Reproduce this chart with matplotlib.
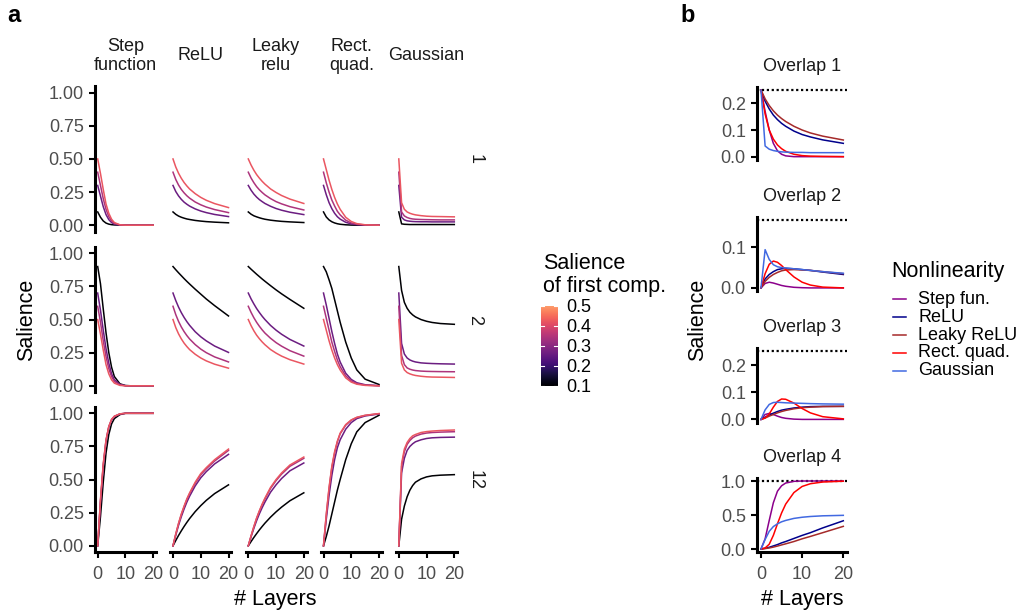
import numpy as np
import matplotlib.pyplot as plt
from matplotlib.colors import ListedColormap

plt.rcParams['font.family'] = ['Liberation Sans', 'DejaVu Sans']

layers = [0, 1, 2, 3, 4, 5, 6, 8, 10, 12, 15, 20]

# ---- panel a: salience of first component = 0.1, 0.3, 0.4, 0.5 ----
salience = [0.1, 0.3, 0.4, 0.5]
col_labels = ["Step\nfunction", "ReLU", "Leaky\nrelu", "Rect.\nquad.", "Gaussian"]
row_labels = ["1", "2", "12"]

# row "1"
step_r1 = [[0.1, 0.06, 0.032, 0.016, 0.008, 0.004, 0.002, 0.0, 0, 0, 0, 0],
           [0.3, 0.22, 0.14, 0.08, 0.042, 0.02, 0.008, 0.001, 0, 0, 0, 0],
           [0.4, 0.3, 0.2, 0.12, 0.065, 0.032, 0.014, 0.002, 0, 0, 0, 0],
           [0.5, 0.39, 0.27, 0.16, 0.09, 0.045, 0.02, 0.003, 0, 0, 0, 0]]
relu_r1 = [[0.1, 0.082, 0.069, 0.06, 0.053, 0.047, 0.043, 0.036, 0.031, 0.027, 0.023, 0.018],
           [0.3, 0.254, 0.221, 0.195, 0.174, 0.158, 0.144, 0.123, 0.107, 0.095, 0.081, 0.065],
           [0.4, 0.345, 0.303, 0.27, 0.244, 0.222, 0.204, 0.175, 0.154, 0.137, 0.118, 0.095],
           [0.5, 0.439, 0.392, 0.354, 0.322, 0.296, 0.273, 0.238, 0.21, 0.188, 0.163, 0.133]]
leaky_r1 = [[0.1, 0.083, 0.071, 0.063, 0.056, 0.05, 0.045, 0.038, 0.033, 0.029, 0.025, 0.02],
            [0.3, 0.264, 0.235, 0.212, 0.193, 0.178, 0.164, 0.143, 0.126, 0.113, 0.098, 0.08],
            [0.4, 0.356, 0.321, 0.291, 0.267, 0.247, 0.229, 0.201, 0.178, 0.161, 0.14, 0.115],
            [0.5, 0.454, 0.415, 0.382, 0.355, 0.331, 0.31, 0.274, 0.247, 0.224, 0.197, 0.164]]
rquad_r1 = [[0.1, 0.062, 0.04, 0.026, 0.017, 0.011, 0.007, 0.003, 0.001, 0, 0, 0],
            [0.3, 0.23, 0.17, 0.125, 0.09, 0.064, 0.046, 0.022, 0.01, 0.004, 0.001, 0],
            [0.4, 0.32, 0.25, 0.19, 0.145, 0.105, 0.078, 0.038, 0.017, 0.007, 0.002, 0],
            [0.5, 0.42, 0.34, 0.27, 0.21, 0.16, 0.12, 0.06, 0.028, 0.012, 0.003, 0]]
gauss_r1 = [[0.1, 0.01, 0.007, 0.006, 0.005, 0.005, 0.005, 0.005, 0.005, 0.005, 0.005, 0.005],
            [0.3, 0.06, 0.04, 0.033, 0.03, 0.028, 0.027, 0.026, 0.026, 0.025, 0.025, 0.025],
            [0.4, 0.1, 0.07, 0.058, 0.051, 0.047, 0.045, 0.043, 0.042, 0.041, 0.04, 0.04],
            [0.5, 0.17, 0.12, 0.1, 0.09, 0.083, 0.078, 0.072, 0.068, 0.066, 0.065, 0.063]]

# row "2"
step_r2 = [[0.9, 0.77, 0.58, 0.4, 0.25, 0.14, 0.07, 0.015, 0.002, 0, 0, 0],
           [0.7, 0.57, 0.42, 0.28, 0.17, 0.09, 0.045, 0.01, 0.001, 0, 0, 0],
           [0.6, 0.48, 0.34, 0.22, 0.13, 0.07, 0.033, 0.007, 0, 0, 0, 0],
           [0.5, 0.39, 0.27, 0.16, 0.09, 0.045, 0.02, 0.003, 0, 0, 0, 0]]
relu_r2 = [[0.9, 0.876, 0.853, 0.831, 0.809, 0.788, 0.768, 0.729, 0.692, 0.655, 0.605, 0.527],
           [0.7, 0.643, 0.594, 0.552, 0.516, 0.484, 0.456, 0.408, 0.37, 0.339, 0.3, 0.252],
           [0.6, 0.537, 0.486, 0.444, 0.409, 0.379, 0.353, 0.311, 0.277, 0.25, 0.218, 0.18],
           [0.5, 0.439, 0.392, 0.354, 0.322, 0.296, 0.273, 0.238, 0.21, 0.188, 0.163, 0.133]]
leaky_r2 = [[0.9, 0.88, 0.861, 0.842, 0.824, 0.806, 0.789, 0.756, 0.724, 0.694, 0.652, 0.585],
            [0.7, 0.656, 0.618, 0.583, 0.553, 0.525, 0.5, 0.456, 0.42, 0.389, 0.35, 0.3],
            [0.6, 0.554, 0.514, 0.479, 0.449, 0.422, 0.398, 0.359, 0.326, 0.299, 0.265, 0.224],
            [0.5, 0.454, 0.415, 0.382, 0.355, 0.331, 0.31, 0.274, 0.247, 0.224, 0.197, 0.164]]
rquad_r2 = [[0.9, 0.86, 0.8, 0.735, 0.65, 0.565, 0.48, 0.33, 0.21, 0.12, 0.05, 0.01],
            [0.7, 0.61, 0.51, 0.41, 0.32, 0.24, 0.18, 0.095, 0.048, 0.023, 0.008, 0.001],
            [0.6, 0.51, 0.42, 0.33, 0.26, 0.195, 0.145, 0.075, 0.037, 0.017, 0.005, 0],
            [0.5, 0.42, 0.34, 0.27, 0.21, 0.16, 0.12, 0.06, 0.028, 0.012, 0.003, 0]]
gauss_r2 = [[0.9, 0.72, 0.63, 0.585, 0.555, 0.535, 0.52, 0.5, 0.487, 0.478, 0.47, 0.464],
            [0.7, 0.32, 0.24, 0.21, 0.195, 0.186, 0.18, 0.173, 0.17, 0.168, 0.166, 0.164],
            [0.6, 0.23, 0.16, 0.135, 0.125, 0.119, 0.115, 0.111, 0.109, 0.108, 0.107, 0.106],
            [0.5, 0.17, 0.12, 0.1, 0.09, 0.083, 0.078, 0.072, 0.068, 0.066, 0.065, 0.063]]

# row "12"
step_r3 = [[0, 0.22, 0.48, 0.7, 0.84, 0.92, 0.96, 0.99, 1, 1, 1, 1],
           [0, 0.33, 0.6, 0.79, 0.895, 0.95, 0.975, 0.995, 1, 1, 1, 1],
           [0, 0.34, 0.61, 0.795, 0.9, 0.952, 0.977, 0.995, 1, 1, 1, 1],
           [0, 0.35, 0.62, 0.8, 0.9, 0.955, 0.978, 0.996, 1, 1, 1, 1]]
relu_r3 = [[0, 0.04, 0.078, 0.113, 0.146, 0.177, 0.206, 0.258, 0.303, 0.343, 0.394, 0.46],
           [0, 0.08, 0.155, 0.22, 0.278, 0.33, 0.375, 0.452, 0.513, 0.56, 0.618, 0.69],
           [0, 0.088, 0.167, 0.236, 0.295, 0.349, 0.394, 0.472, 0.536, 0.581, 0.64, 0.72],
           [0, 0.09, 0.17, 0.24, 0.3, 0.355, 0.4, 0.48, 0.545, 0.59, 0.65, 0.73]]
leaky_r3 = [[0, 0.032, 0.063, 0.092, 0.12, 0.146, 0.171, 0.216, 0.256, 0.292, 0.34, 0.4],
            [0, 0.068, 0.132, 0.19, 0.242, 0.288, 0.33, 0.404, 0.46, 0.508, 0.566, 0.625],
            [0, 0.074, 0.143, 0.207, 0.261, 0.31, 0.354, 0.433, 0.492, 0.541, 0.6, 0.66],
            [0, 0.075, 0.145, 0.21, 0.265, 0.315, 0.36, 0.44, 0.5, 0.55, 0.61, 0.67]]
rquad_r3 = [[0, 0.07, 0.15, 0.24, 0.33, 0.42, 0.5, 0.65, 0.77, 0.86, 0.93, 0.985],
            [0, 0.2, 0.38, 0.53, 0.65, 0.74, 0.8, 0.88, 0.93, 0.96, 0.98, 0.995],
            [0, 0.23, 0.43, 0.59, 0.7, 0.785, 0.845, 0.91, 0.948, 0.968, 0.984, 0.997],
            [0, 0.24, 0.44, 0.6, 0.71, 0.79, 0.85, 0.915, 0.95, 0.97, 0.985, 0.998]]
gauss_r3 = [[0, 0.2, 0.3, 0.37, 0.42, 0.455, 0.48, 0.505, 0.52, 0.528, 0.533, 0.537],
            [0, 0.55, 0.66, 0.72, 0.75, 0.77, 0.785, 0.8, 0.81, 0.815, 0.818, 0.82],
            [0, 0.6, 0.71, 0.765, 0.795, 0.815, 0.828, 0.843, 0.851, 0.855, 0.858, 0.861],
            [0, 0.62, 0.73, 0.78, 0.81, 0.83, 0.84, 0.855, 0.862, 0.866, 0.87, 0.874]]

# ---- panel b: order = step, relu, leaky relu, rect. quad., gaussian ----
nonlin_names = ["Step fun.", "ReLU", "Leaky ReLU", "Rect. quad.", "Gaussian"]
nonlin_colors = ["#8B008B", "#00008B", "#A52A2A", "#FF0000", "#4169E1"]
overlap_titles = ["Overlap 1", "Overlap 2", "Overlap 3", "Overlap 4"]
chance_levels = [0.25, 0.1667, 0.25, 1.0]

overlap1 = [[0.25, 0.17, 0.1, 0.05, 0.022, 0.009, 0.003, 0, 0, 0, 0, 0],
            [0.25, 0.208, 0.179, 0.156, 0.139, 0.125, 0.114, 0.096, 0.083, 0.074, 0.063, 0.05],
            [0.25, 0.217, 0.192, 0.172, 0.156, 0.143, 0.132, 0.114, 0.1, 0.089, 0.077, 0.0625],
            [0.25, 0.16, 0.1, 0.066, 0.044, 0.03, 0.02, 0.009, 0.004, 0.002, 0.001, 0],
            [0.25, 0.04, 0.028, 0.023, 0.02, 0.018, 0.017, 0.016, 0.016, 0.015, 0.015, 0.015]]
overlap2 = [[0, 0.011, 0.014, 0.012, 0.009, 0.006, 0.004, 0.0015, 0.0005, 0, 0, 0],
            [0, 0.022, 0.033, 0.04, 0.045, 0.047, 0.048, 0.047, 0.045, 0.043, 0.039, 0.033],
            [0, 0.016, 0.026, 0.033, 0.038, 0.042, 0.044, 0.045, 0.044, 0.043, 0.04, 0.035],
            [0, 0.035, 0.058, 0.066, 0.063, 0.055, 0.045, 0.027, 0.014, 0.007, 0.002, 0],
            [0, 0.094, 0.07, 0.057, 0.052, 0.05, 0.049, 0.047, 0.045, 0.043, 0.04, 0.036]]
overlap3 = [[0, 0.018, 0.022, 0.018, 0.012, 0.007, 0.004, 0.001, 0, 0, 0, 0],
            [0, 0.008, 0.016, 0.023, 0.029, 0.034, 0.037, 0.042, 0.045, 0.047, 0.048, 0.048],
            [0, 0.005, 0.012, 0.018, 0.024, 0.029, 0.033, 0.039, 0.043, 0.045, 0.047, 0.048],
            [0, 0.005, 0.02, 0.045, 0.066, 0.075, 0.074, 0.06, 0.04, 0.024, 0.01, 0.002],
            [0, 0.035, 0.055, 0.062, 0.063, 0.062, 0.061, 0.06, 0.059, 0.058, 0.057, 0.056]]
overlap4 = [[0, 0.15, 0.42, 0.68, 0.85, 0.93, 0.97, 0.995, 1, 1, 1, 1],
            [0, 0.01, 0.025, 0.045, 0.065, 0.09, 0.11, 0.155, 0.2, 0.24, 0.31, 0.415],
            [0, 0.006, 0.015, 0.028, 0.043, 0.06, 0.076, 0.11, 0.15, 0.185, 0.24, 0.333],
            [0, 0.015, 0.07, 0.2, 0.37, 0.53, 0.66, 0.83, 0.92, 0.96, 0.985, 0.997],
            [0, 0.14, 0.26, 0.33, 0.37, 0.4, 0.42, 0.45, 0.467, 0.478, 0.488, 0.495]]

facets = [[step_r1, relu_r1, leaky_r1, rquad_r1, gauss_r1],
          [step_r2, relu_r2, leaky_r2, rquad_r2, gauss_r2],
          [step_r3, relu_r3, leaky_r3, rquad_r3, gauss_r3]]
overlaps = [overlap1, overlap2, overlap3, overlap4]

W, H = 1023, 611
fig = plt.figure(figsize=(W / 100, H / 100), dpi=100)

# overlay in pixel coordinates for free-standing text
over = fig.add_axes([0, 0, 1, 1])
over.set_xlim(0, W)
over.set_ylim(H, 0)
over.axis('off')


def px_axes(left, top, width, height):
    return fig.add_axes([left / W, 1 - (top + height) / H, width / W, height / H])


magma = plt.get_cmap('magma')


def sal_color(s):
    return magma((s - 0.1) / 0.5 * 0.8)


TICK_GREY = '#4d4d4d'
FS = 13

# ---- panel a ----
col_x0 = [97.7, 173.0, 248.3, 323.5, 398.8]
row_y1 = [92.7, 253.3, 413.3]
ux = 55.5 / 20
uy = 132.5
for r in range(3):
    for c in range(5):
        ax = px_axes(col_x0[c] - ux, row_y1[r] - 0.05 * uy, 22 * ux, 1.1 * uy)
        for s, ys in zip(salience, facets[r][c]):
            ax.plot(layers, ys, color=sal_color(s), lw=1.1)
        ax.set_xlim(-1, 21)
        ax.set_ylim(-0.05, 1.05)
        for sp in ax.spines.values():
            sp.set_visible(False)
        ax.patch.set_visible(False)
        ax.set_yticks([0, 0.25, 0.5, 0.75, 1.0])
        ax.set_yticklabels(["0.00", "0.25", "0.50", "0.75", "1.00"])
        ax.set_xticks([0, 10, 20])
        ax.tick_params(left=(c == 0), labelleft=(c == 0),
                       bottom=(r == 2), labelbottom=(r == 2),
                       length=4, width=1.5, labelsize=FS, labelcolor=TICK_GREY)
        ax.tick_params(axis='y', pad=4)
        ax.tick_params(axis='x', pad=6)
        if c == 0:
            ax.spines['left'].set_visible(True)
            ax.spines['left'].set_linewidth(2.2)
        if r == 2:
            ax.spines['bottom'].set_visible(True)
            ax.spines['bottom'].set_linewidth(2.2)
        if r == 0:
            over.text(col_x0[c] + 27.75, 56, col_labels[c], ha='center', va='center',
                      fontsize=FS, color='#1a1a1a', linespacing=1.1)
        if c == 4:
            over.text(475, row_y1[r] + 0.5 * uy, row_labels[r], rotation=270,
                      ha='center', va='center', fontsize=FS, color='#1a1a1a')

over.text(27, 320, "Salience", rotation=90, ha='center', va='center', fontsize=15.5)
over.text(275, 600, "# Layers", ha='center', va='center', fontsize=15.5)
over.text(7, 16, "a", fontweight='bold', ha='left', va='center', fontsize=17)

# colour bar legend
over.text(543, 253, "Salience\nof first comp.", ha='left', va='top', fontsize=15.5,
          linespacing=1.12)
cb_ax = px_axes(541, 306, 16.7, 80)
cb_cmap = ListedColormap(magma(np.linspace(0, 0.8, 256)))
cb_ax.imshow(np.linspace(0.1, 0.5, 256).reshape(-1, 1), aspect='auto', cmap=cb_cmap,
             origin='lower', extent=[0, 1, 0.1, 0.5])
cb_ax.set_xlim(0, 1)
cb_ax.set_ylim(0.1, 0.5)
cb_ax.axis('off')
for v in [0.1, 0.2, 0.3, 0.4, 0.5]:
    cb_ax.plot([0, 0.2], [v, v], color='white', lw=0.8)
    cb_ax.plot([0.8, 1], [v, v], color='white', lw=0.8)
    over.text(566, 387 - (v - 0.1) / 0.4 * 79, f"{v:.1f}", ha='left', va='center', fontsize=FS)

# ---- panel b ----
bx0 = 761.0
bux = 82.3 / 20
b_tops = [86.7, 216.7, 348.0, 477.6]
b_heights = [73.3, 74.6, 74.8, 74.8]
b_lims = [(-0.0125, 0.2625), (-0.00833, 0.175), (-0.0125, 0.2625), (-0.05, 1.05)]
b_ticks = [[0, 0.1, 0.2], [0, 0.1], [0, 0.1, 0.2], [0, 0.5, 1.0]]
for i in range(4):
    ax = px_axes(bx0 - bux, b_tops[i], 22 * bux, b_heights[i])
    ax.axhline(chance_levels[i], color='black', ls=(0, (1, 1.2)), lw=1.6)
    for name, col, ys in zip(nonlin_names, nonlin_colors, overlaps[i]):
        ax.plot(layers, ys, color=col, lw=1.1)
    ax.set_xlim(-1, 21)
    ax.set_ylim(*b_lims[i])
    for sp in ax.spines.values():
        sp.set_visible(False)
    ax.patch.set_visible(False)
    ax.spines['left'].set_visible(True)
    ax.spines['left'].set_linewidth(2.2)
    ax.set_yticks(b_ticks[i])
    ax.set_yticklabels([f"{t:.1f}" for t in b_ticks[i]])
    ax.set_xticks([0, 10, 20])
    last = (i == 3)
    ax.tick_params(bottom=last, labelbottom=last, length=4, width=1.5,
                   labelsize=FS, labelcolor=TICK_GREY)
    ax.tick_params(axis='y', pad=4)
    ax.tick_params(axis='x', pad=6)
    if last:
        ax.spines['bottom'].set_visible(True)
        ax.spines['bottom'].set_linewidth(2.2)
    over.text(bx0 - bux + 11 * bux, b_tops[i] - 20, overlap_titles[i], ha='center',
              va='center', fontsize=FS, color='#1a1a1a')

over.text(698, 320, "Salience", rotation=90, ha='center', va='center', fontsize=15.5)
over.text(802, 600, "# Layers", ha='center', va='center', fontsize=15.5)
over.text(680, 15, "b", fontweight='bold', ha='left', va='center', fontsize=17)

# legend for nonlinearities
over.text(891.7, 271.7, "Nonlinearity", ha='left', va='center', fontsize=15.5)
leg_y = [299.3, 317.3, 335.0, 352.7, 370.7]
for y, name, col in zip(leg_y, nonlin_names, nonlin_colors):
    over.plot([893, 906], [y, y], color=col, lw=1.1)
    over.text(918, y, name, ha='left', va='center', fontsize=FS)

fig.savefig("out.png", dpi=100)
